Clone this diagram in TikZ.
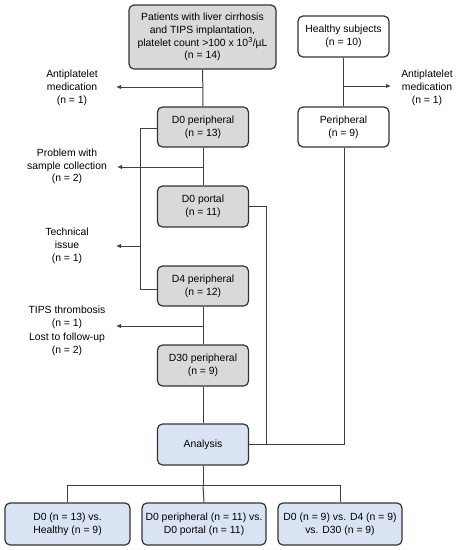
\documentclass[tikz,border=0pt]{standalone}
\usepackage{fontspec}
\setmainfont{Liberation Sans}
\usetikzlibrary{arrows.meta}
\definecolor{boxgray}{HTML}{D9D9D9}
\definecolor{boxblue}{HTML}{DAE3F3}
\definecolor{edgec}{HTML}{333333}
\definecolor{linec}{HTML}{404040}
\begin{document}
\begin{tikzpicture}[x=1pt,y=-1pt,
  every node/.style={font=\fontsize{10.4}{12.7}\selectfont, align=center, inner sep=1pt},
  box/.style={draw=edgec, line width=1.2pt, rounded corners=5pt, minimum width=91pt, minimum height=40pt},
  gbox/.style={box, fill=boxgray},
  wbox/.style={box, fill=white},
  bbox/.style={box, fill=boxblue},
  conn/.style={draw=linec, line width=1pt},
  excl/.style={conn, -{Latex[length=5pt,width=4.5pt]}},
  lbl/.style={text=black}
]
\useasboundingbox (0,0) rectangle (456,550);
% boxes
\node[gbox, minimum width=147pt, minimum height=64pt] (top) at (202.5,37) {Patients with liver cirrhosis\\and TIPS implantation,\\platelet count >100 x 10\textsuperscript{3}/µL\\(n = 14)};
\node[wbox, minimum height=41pt] (healthy) at (343.5,36.5) {Healthy subjects\\(n = 10)};
\node[gbox] (d0p) at (203,127) {D0 peripheral\\(n = 13)};
\node[wbox] (periph) at (343.5,127) {Peripheral\\(n = 9)};
\node[gbox, minimum height=41pt] (d0portal) at (203,206.5) {D0 portal\\(n = 11)};
\node[gbox] (d4) at (203,286) {D4 peripheral\\(n = 12)};
\node[gbox, minimum height=41pt] (d30) at (203,365.5) {D30 peripheral\\(n = 9)};
\node[bbox, minimum height=41pt] (analysis) at (203,444.5) {Analysis};
\node[bbox, minimum width=125pt, minimum height=42pt] (res1) at (67.5,524) {D0 (n = 13) vs.\\Healthy (n = 9)};
\node[bbox, minimum width=124pt, minimum height=42pt] (res2) at (204,524) {D0 peripheral (n = 11) vs.\\D0 portal (n = 11)};
\node[bbox, minimum width=124pt, minimum height=42pt] (res3) at (340,524) {D0 (n = 9) vs. D4 (n = 9)\\vs. D30 (n = 9)};
% exclusion labels
\node[lbl] (ex1) at (72,88) {Antiplatelet\\medication\\(n = 1)};
\node[lbl] (ex2) at (427,88) {Antiplatelet\\medication\\(n = 1)};
\node[lbl] (ex3) at (67,166.5) {Problem with\\sample collection\\(n = 2)};
\node[lbl] (ex4) at (67,246) {Technical\\issue\\(n = 1)};
\node[lbl] (ex5) at (67,331) {TIPS thrombosis\\(n = 1)\\[1.5pt]Lost to follow-up\\(n = 2)};
% coordinates
\coordinate (j1) at (203,87);
\coordinate (e1) at (116,87);
\coordinate (j2) at (344,86);
\coordinate (e2) at (391,86);
\coordinate (j3) at (203,167);
\coordinate (e3) at (117,167);
\coordinate (l1) at (140,128);
\coordinate (l2) at (140,289);
\coordinate (j4) at (140,246);
\coordinate (e4) at (116,246);
\coordinate (j5) at (203,326);
\coordinate (e5) at (116,326);
\coordinate (p1) at (266,206);
\coordinate (p2) at (266,444);
\coordinate (q1) at (344,444);
\coordinate (b0) at (203,485);
% connectors
\draw[conn] (top) -- (d0p);
\draw[excl] (j1) -- (e1);
\draw[conn] (healthy) -- (periph);
\draw[excl] (j2) -- (e2);
\draw[conn] (d0p) -- (d0portal);
\draw[excl] (j3) -- (e3);
\draw[conn] (d0p.west |- l1) -- (l1) -- (l2) -- (d4.west |- l2);
\draw[excl] (j4) -- (e4);
\draw[conn] (d4) -- (d30);
\draw[excl] (j5) -- (e5);
\draw[conn] (d30) -- (analysis);
\draw[conn] (d0portal.east |- p1) -- (p1) -- (p2);
\draw[conn] (periph.south -| q1) -- (q1) -- (analysis.east |- q1);
\draw[conn] (analysis) -- (b0);
\draw[conn] (res1.north) -- (res1.north |- b0) -- (res3.north |- b0) -- (res3.north);
\draw[conn] (b0) -- (res2.north);
\end{tikzpicture}
\end{document}
